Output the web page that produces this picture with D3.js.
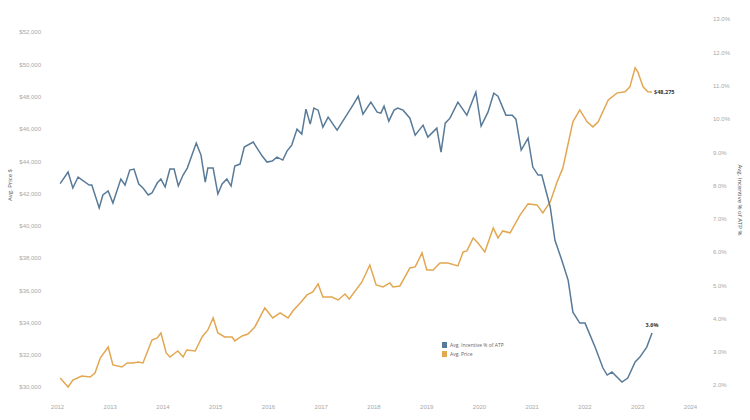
<html>
<head>
<script src="https://cdn.jsdelivr.net/npm/d3@7/dist/d3.min.js"></script>
<style>
  body { margin: 0; background: #fff; font-family: "Open Sans", sans-serif; }
  text { fill: #999; font-size: 6px; }
</style>
</head>
<body>
<svg id="chart" width="750" height="420"></svg>
<script>
"use strict";

// data (decimal year, value)
var incentiveYears = [2012.06,2012.21,2012.30,2012.40,2012.61,2012.66,2012.80,2012.87,2012.97,2013.06,2013.21,2013.29,2013.38,2013.46,2013.55,2013.63,2013.73,2013.80,2013.90,2013.97,2014.05,2014.14,2014.22,2014.30,2014.39,2014.47,2014.64,2014.73,2014.81,2014.86,2014.96,2015.05,2015.13,2015.22,2015.30,2015.37,2015.47,2015.55,2015.72,2015.89,2015.98,2016.08,2016.17,2016.28,2016.36,2016.45,2016.55,2016.64,2016.72,2016.80,2016.87,2016.95,2017.04,2017.14,2017.31,2017.61,2017.71,2017.80,2017.95,2018.07,2018.14,2018.20,2018.29,2018.39,2018.46,2018.56,2018.69,2018.79,2018.94,2019.03,2019.20,2019.28,2019.36,2019.45,2019.60,2019.77,2019.94,2020.04,2020.17,2020.28,2020.36,2020.51,2020.63,2020.70,2020.80,2020.93,2021.02,2021.12,2021.19,2021.35,2021.44,2021.57,2021.69,2021.78,2021.91,2022.01,2022.20,2022.35,2022.43,2022.52,2022.71,2022.82,2022.96,2023.05,2023.18,2023.28];
var incentivePct = [8.05,8.40,7.92,8.25,8.01,8.01,7.32,7.71,7.83,7.47,8.19,8.01,8.46,8.49,8.04,7.92,7.71,7.77,8.07,8.19,7.95,8.49,8.49,7.98,8.31,8.52,9.27,8.91,8.10,8.52,8.52,7.74,8.04,8.19,7.98,8.58,8.64,9.15,9.30,8.88,8.70,8.73,8.85,8.76,9.03,9.21,9.69,9.54,10.29,9.84,10.32,10.26,9.75,10.05,9.66,10.41,10.68,10.14,10.50,10.20,10.17,10.38,9.93,10.26,10.32,10.26,10.02,9.51,9.81,9.45,9.72,9.00,9.87,10.02,10.50,10.11,10.80,9.78,10.20,10.77,10.68,10.11,10.11,9.99,9.06,9.42,8.55,8.31,8.31,7.35,6.35,5.75,5.15,4.19,3.86,3.86,3.14,2.51,2.30,2.39,2.09,2.21,2.69,2.84,3.14,3.56];

var priceYears = [2012.06,2012.21,2012.30,2012.47,2012.63,2012.72,2012.82,2012.97,2013.06,2013.23,2013.33,2013.44,2013.54,2013.63,2013.80,2013.90,2013.97,2014.07,2014.14,2014.29,2014.39,2014.46,2014.62,2014.75,2014.86,2014.96,2015.05,2015.18,2015.32,2015.37,2015.51,2015.62,2015.75,2015.94,2016.09,2016.23,2016.38,2016.47,2016.61,2016.74,2016.85,2016.95,2017.04,2017.21,2017.33,2017.46,2017.54,2017.78,2017.93,2018.05,2018.18,2018.31,2018.37,2018.50,2018.69,2018.79,2018.92,2019.01,2019.13,2019.26,2019.41,2019.60,2019.70,2019.77,2019.89,2019.98,2020.11,2020.27,2020.36,2020.45,2020.59,2020.78,2020.93,2021.10,2021.21,2021.35,2021.48,2021.59,2021.78,2021.91,2022.05,2022.16,2022.26,2022.45,2022.62,2022.77,2022.86,2022.96,2023.01,2023.11,2023.20,2023.28];
var priceValues = [30558,30000,30434,30682,30620,30868,31798,32480,31364,31240,31488,31488,31550,31488,32914,33038,33348,32108,31860,32232,31860,32294,32232,33100,33534,34278,33348,33100,33100,32852,33162,33286,33720,34898,34278,34588,34278,34712,35208,35704,35890,36386,35580,35580,35394,35766,35456,36510,37564,36324,36200,36448,36200,36262,37378,37440,38308,37254,37254,37688,37688,37502,38370,38432,39238,38928,38370,39858,39238,39672,39548,40664,41346,41284,40788,41470,42710,43578,46430,47174,46430,46120,46430,47794,48228,48290,48600,49778,49530,48600,48290,48275];

var yearTicks = d3.range(2012, 2025);
var priceTicks = d3.range(30000, 52001, 2000);
var pctTicks = d3.range(2, 13.01, 1);

var blue = "#587a99", orange = "#e3a752";
var svg = d3.select("#chart");

var x = d3.scaleLinear().domain([2012, 2024]).range([57, 690]);
var yL = d3.scaleLinear().domain([30000, 52000]).range([387, 32]);
var yR = d3.scaleLinear().domain([2, 13]).range([385, 19]);

var left = svg.append("g").attr("transform", "translate(44,0)")
	.call(d3.axisLeft(yL).tickValues(priceTicks).tickSize(0).tickFormat(d3.format("$,")));
var right = svg.append("g").attr("transform", "translate(710,0)")
	.call(d3.axisRight(yR).tickValues(pctTicks).tickSize(0).tickFormat(function (d) { return d.toFixed(1) + "%"; }));
var bottom = svg.append("g").attr("transform", "translate(0,402)")
	.call(d3.axisBottom(x).tickValues(yearTicks).tickSize(0).tickFormat(d3.format("d")));
[left, right, bottom].forEach(function (g) {
	g.select(".domain").remove();
	g.selectAll("text").style("fill", "#a8a8a8").style("font-size", "6px");
});

svg.append("text").attr("transform", "translate(12,185) rotate(-90)")
	.attr("text-anchor", "middle").style("fill", "#555").text("Avg. Price $");
svg.append("text").attr("transform", "translate(738,200) rotate(90)")
	.attr("text-anchor", "middle").style("fill", "#555").text("Avg. Incentive % of ATP %");

var priceLine = d3.line().x(function (d, i) { return x(priceYears[i]); }).y(function (d) { return yL(d); });
var pctLine = d3.line().x(function (d, i) { return x(incentiveYears[i]); }).y(function (d) { return yR(d); });

svg.append("path").datum(priceValues).attr("d", priceLine)
	.attr("fill", "none").attr("stroke", orange).attr("stroke-width", 1.5);
svg.append("path").datum(incentivePct).attr("d", pctLine)
	.attr("fill", "none").attr("stroke", blue).attr("stroke-width", 1.5);

// end labels
var lp = priceValues[priceValues.length - 1];
svg.append("text").attr("x", x(priceYears[priceYears.length - 1]) + 2).attr("y", yL(lp) + 2)
	.style("fill", "#333").style("font-size", "5.5px").style("font-weight", "bold").text(d3.format("$,")(lp));
var li = incentivePct[incentivePct.length - 1];
svg.append("text").attr("x", x(incentiveYears[incentiveYears.length - 1])).attr("y", yR(li) - 6)
	.attr("text-anchor", "middle").style("fill", "#333").style("font-size", "5.5px").style("font-weight", "bold")
	.text(li.toFixed(1) + "%");

// legend
var legend = [["Avg. Incentive % of ATP", blue], ["Avg. Price", orange]];
legend.forEach(function (l, i) {
	svg.append("rect").attr("x", 442).attr("y", 342 + i * 9).attr("width", 5).attr("height", 6).attr("fill", l[1]);
	svg.append("text").attr("x", 450).attr("y", 347 + i * 9).style("fill", "#666").style("font-size", "5px").text(l[0]);
});
</script>
</body>
</html>
